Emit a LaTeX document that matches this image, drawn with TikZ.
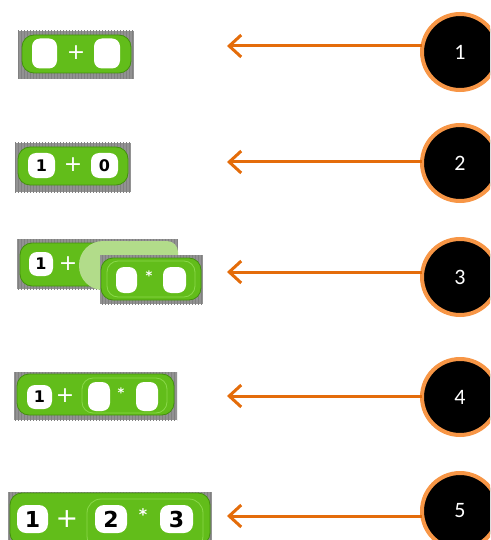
\documentclass[tikz,border=0pt]{standalone}
\usepackage{fontspec}
\setmainfont{Carlito}
\newfontfamily\digitfont{DejaVu Sans}
\newfontfamily\opfont{DejaVu Sans}
\usetikzlibrary{arrows.meta,patterns}

\definecolor{snapgreen}{HTML}{62BD1A}
\definecolor{snapdark}{HTML}{43900E}
\definecolor{snaplight}{HTML}{8AD84A}
\definecolor{ghostgreen}{HTML}{B2DC8A}
\definecolor{stagegray}{HTML}{929292}
\definecolor{stripegray}{HTML}{808080}
\definecolor{arroworange}{HTML}{E46C0A}
\definecolor{ringorange}{HTML}{F79646}

\tikzset{
  stage/.style={fill=stagegray},
  stripes/.style={pattern=vertical lines, pattern color=stripegray},
  reporter/.style={fill=snapgreen, draw=snapdark, line width=0.8pt, rounded corners=12pt},
  nested/.style={draw=snaplight, line width=0.8pt, rounded corners=11pt},
  ghost/.style={fill=ghostgreen},
  slot/.style={rectangle, fill=white, rounded corners=8pt, inner sep=0pt, outer sep=0pt,
    text=black, font=\digitfont\bfseries\fontsize{16}{16}\selectfont},
  bigslot/.style={slot, rounded corners=9pt, font=\digitfont\bfseries\fontsize{22}{22}\selectfont},
  op/.style={inner sep=0pt, text=white, font=\opfont\fontsize{22}{22}\selectfont},
  star/.style={inner sep=0pt, text=white, font=\opfont\bfseries\fontsize{13}{13}\selectfont},
  badge/.style={circle, fill=black, draw=ringorange, line width=4pt, minimum size=76pt,
    inner sep=0pt, outer sep=0pt, text=white, font=\fontsize{22}{22}\selectfont},
  pointer/.style={draw=arroworange, line width=3pt,
    -{Straight Barb[length=12pt,width=22pt]}},
}

\newcommand\stagebox[4]{%
  \fill[stage] (#1,#2) rectangle (#3,#4);
  \fill[stripes] (#1,#2) rectangle (#3,#4);}

\begin{document}
\begin{tikzpicture}[x=1pt,y=-1pt]
\useasboundingbox (0,0) rectangle (490,540);
\clip (0,0) rectangle (490,540);

% ---- step 1: empty sum block
\stagebox{18}{31}{134}{79}
\path[reporter] (22,35) rectangle (131,73);
\node[slot, minimum width=25pt, minimum height=30pt] (s1a) at (44.5,53.5) {};
\node[op] (p1) at (76,53) {+};
\node[slot, minimum width=26pt, minimum height=30pt] (s1b) at (107,53.5) {};

% ---- step 2: numbers typed in
\stagebox{15}{143}{131}{192}
\path[reporter] (18,147) rectangle (128,185);
\node[slot, minimum width=27pt, minimum height=25pt] (s2a) at (41.5,165.5) {1};
\node[op] (p2) at (73,165) {+};
\node[slot, minimum width=27pt, minimum height=25pt] (s2b) at (104.5,165.5) {0};

% ---- step 3: product block dragged onto the second slot
\stagebox{17}{239}{178}{289}
\path[reporter] (20,243) rectangle (112,286);
\node[slot, minimum width=24pt, minimum height=24pt] (s3a) at (41,264) {1};
\node[op] (p3) at (68,264) {+};
\fill[ghost, rounded corners=24pt] (79,241) rectangle (150,290);
\fill[ghost, rounded corners=11pt] (120,241) rectangle (178,290);
\stagebox{100}{255}{203}{304}
\path[reporter] (101,258) rectangle (201,300);
\path[nested] (107,261) rectangle (195,297);
\node[slot, minimum width=21pt, minimum height=26pt] (s3b) at (126.5,280) {};
\node[star] (m3) at (149,276) {*};
\node[slot, minimum width=23pt, minimum height=26pt] (s3c) at (174.5,280) {};

% ---- step 4: product block in place
\stagebox{14}{372}{177}{420}
\path[reporter] (17,374) rectangle (174,415);
\node[slot, minimum width=25pt, minimum height=24pt] (s4a) at (39.5,397) {1};
\node[op] (p4) at (65,396) {+};
\path[nested] (82,378) rectangle (167,413);
\node[slot, minimum width=22pt, minimum height=29pt] (s4b) at (99,396.5) {};
\node[star] (m4) at (121,393) {*};
\node[slot, minimum width=22pt, minimum height=29pt] (s4c) at (147,396.5) {};

% ---- step 5: finished expression
\stagebox{8}{492}{212}{541}
\path[reporter] (10,493) rectangle (210,545);
\node[bigslot, minimum width=31pt, minimum height=28pt] (s5a) at (32.5,519) {1};
\node[op, font=\opfont\fontsize{27}{27}\selectfont] (p5) at (67,519) {+};
\path[nested, rounded corners=14pt] (87,499) rectangle (203,550);
\node[bigslot, minimum width=32pt, minimum height=28pt] (s5b) at (111,519) {2};
\node[star, font=\opfont\bfseries\fontsize{16}{16}\selectfont] (m5) at (143,515) {*};
\node[bigslot, minimum width=33pt, minimum height=28pt] (s5c) at (176.5,519) {3};

% ---- numbered badges with pointers
\node[badge] (c1) at (460,52) {1};
\node[badge] (c2) at (460,163) {2};
\node[badge] (c3) at (460,277) {3};
\node[badge] (c4) at (460,397) {4};
\node[badge] (c5) at (460,511) {5};

\coordinate (t1) at (227,46);
\coordinate (t2) at (227,162);
\coordinate (t3) at (227,272);
\coordinate (t4) at (227,396);
\coordinate (t5) at (227,516);

\foreach \i in {1,...,5}
  \draw[pointer] (c\i.west |- t\i) -- (t\i);
\end{tikzpicture}
\end{document}
